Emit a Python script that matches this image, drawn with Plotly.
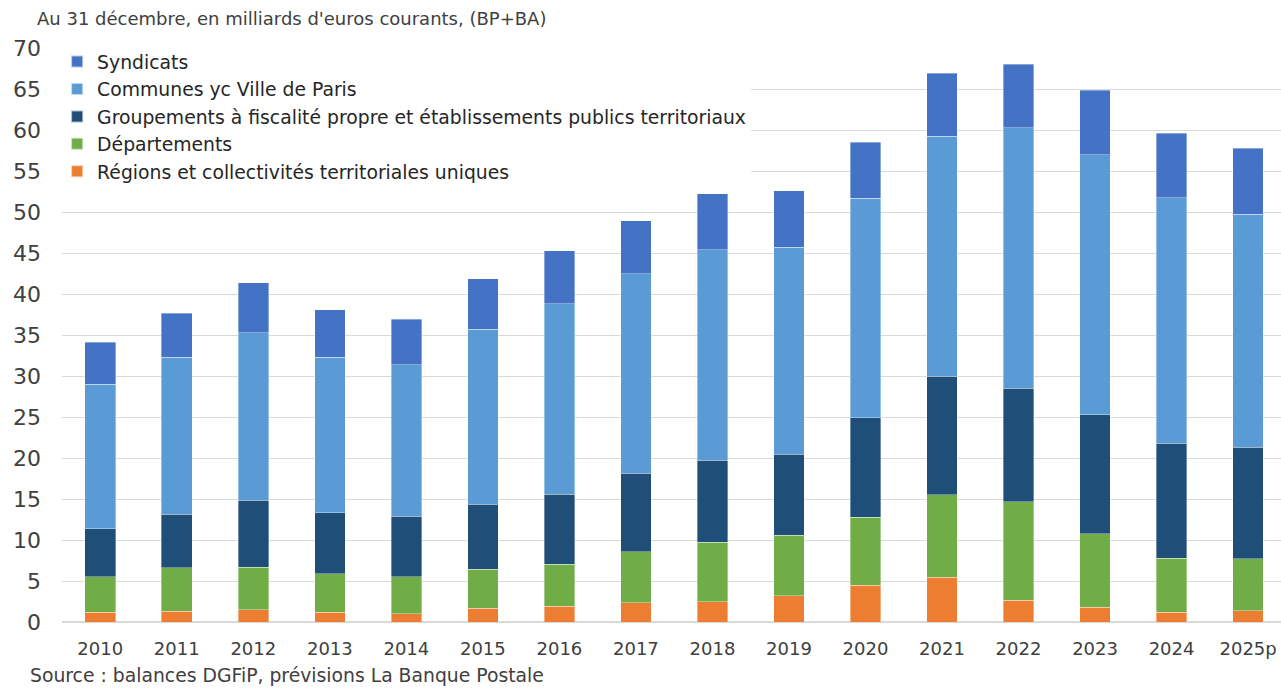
import plotly.graph_objects as go

years = ["2010", "2011", "2012", "2013", "2014", "2015", "2016", "2017",
         "2018", "2019", "2020", "2021", "2022", "2023", "2024", "2025p"]

regions = [1.2, 1.3, 1.5, 1.2, 1.0, 1.7, 1.95, 2.35, 2.5, 3.2, 4.5, 5.45, 2.65, 1.8, 1.2, 1.4]
departements = [4.3, 5.3, 5.2, 4.7, 4.5, 4.75, 5.1, 6.2, 7.2, 7.35, 8.25, 10.05, 12.0, 8.95, 6.55, 6.3]
groupements = [5.9, 6.55, 8.15, 7.4, 7.4, 7.9, 8.5, 9.6, 10.0, 9.9, 12.15, 14.5, 13.85, 14.55, 14.05, 13.6]
communes = [17.6, 19.15, 20.45, 19.0, 18.45, 21.35, 23.25, 24.3, 25.7, 25.25, 26.75, 29.25, 31.75, 31.7, 29.95, 28.45]
syndicats = [5.1, 5.35, 6.05, 5.8, 5.6, 6.15, 6.45, 6.5, 6.85, 6.9, 6.85, 7.65, 7.75, 7.85, 7.85, 8.0]

series = [
    ("Régions et collectivités territoriales uniques", regions, "#ED7D31"),
    ("Départements", departements, "#70AD47"),
    ("Groupements à fiscalité propre et établissements publics territoriaux", groupements, "#1F4E79"),
    ("Communes yc Ville de Paris", communes, "#5B9BD5"),
    ("Syndicats", syndicats, "#4472C4"),
]

FONT = "DejaVu Sans"

fig = go.Figure()
n = len(series)
for i, (name, vals, col) in enumerate(series):
    fig.add_trace(go.Bar(
        x=years, y=vals, name=name, legendgroup=f"g{i}", legendrank=n - i,
        marker=dict(color=col, line=dict(color="rgba(255,255,255,0.6)", width=0.6)),
    ))

fig.update_layout(
    barmode="stack",
    bargap=0.6,
    width=1281, height=688,
    margin=dict(l=62, r=0, t=48, b=66),
    paper_bgcolor="white", plot_bgcolor="white",
    font=dict(family=FONT, color="#404040"),
    showlegend=True,
    legend=dict(
        x=-0.004, xanchor="left", y=1.009, yanchor="top",
        traceorder="grouped", tracegroupgap=0,
        bgcolor="white", font=dict(size=18.8, color="#262626", family=FONT),
        itemwidth=30, itemsizing="constant",
    ),
    xaxis=dict(
        range=[-0.5, 15.43],
        showgrid=False, showline=False, ticks="",
        tickfont=dict(size=18, color="#404040"),
        ticklabelstandoff=14,
    ),
    yaxis=dict(
        range=[0, 70], dtick=5, showgrid=True, gridcolor="#d9d9d9", gridwidth=1.3,
        zeroline=True, zerolinecolor="#d9d9d9", zerolinewidth=1.5,
        ticks="", tickfont=dict(size=22, color="#404040"),
        ticklabelstandoff=20,
    ),
    annotations=[
        dict(text="Au 31 décembre, en milliards d'euros courants, (BP+BA)",
             xref="paper", yref="paper", x=-0.022, y=1.052, xanchor="left", yanchor="middle",
             showarrow=False, font=dict(size=18, color="#404040", family=FONT)),
        dict(text="Source : balances DGFiP, prévisions La Banque Postale",
             xref="paper", yref="paper", x=-0.028, y=-0.094, xanchor="left", yanchor="middle",
             showarrow=False, font=dict(size=18.8, color="#404040", family=FONT)),
    ],
)

fig.write_html("out.html", config={"displayModeBar": False},
               post_script="document.body.style.margin='0';document.body.style.overflow='hidden';")
